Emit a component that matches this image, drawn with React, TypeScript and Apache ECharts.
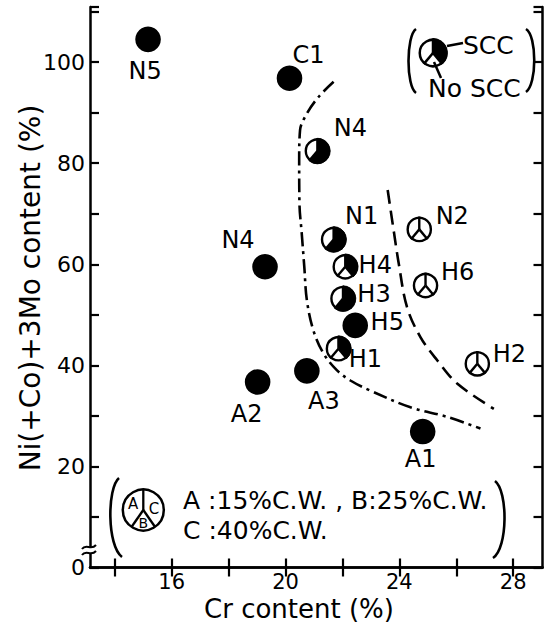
import React, { useEffect, useRef } from "react";
import * as echarts from "echarts";

// ---- data ----
const names = ["N5", "C1", "N4", "N4", "N1", "H4", "H3", "H5", "H1", "N2", "H6", "H2", "A2", "A3", "A1"];
const crContent = [15.17, 20.14, 21.12, 19.28, 21.69, 22.1, 22.02, 22.45, 21.86, 24.7, 24.92, 26.74, 19.02, 20.75, 24.82];
const niContent = [104.5, 96.8, 82.4, 59.5, 64.9, 59.5, 53.2, 47.9, 43.3, 66.9, 55.8, 40.3, 36.7, 38.9, 26.9];
// 1 = SCC (black sector), 0 = no SCC (white sector); A:15%, B:25%, C:40% C.W.
const sccA = [1, 1, 0, 1, 0, 0, 0, 1, 0, 0, 0, 0, 1, 1, 1];
const sccB = [1, 1, 1, 1, 1, 0, 1, 1, 0, 0, 0, 0, 1, 1, 1];
const sccC = [1, 1, 1, 1, 1, 1, 1, 1, 1, 0, 0, 0, 1, 1, 1];

const dashDotBoundary = [
  [21.69, 96.1], [21.16, 93.1], [20.75, 89.8], [20.51, 86.5], [20.48, 80.6], [20.49, 72.0],
  [20.57, 66.1], [20.66, 59.5], [20.75, 52.9], [20.98, 46.9], [21.34, 42.3], [21.81, 39.0],
  [22.28, 37.0], [22.98, 35.0], [24.39, 31.7], [25.68, 29.8], [26.85, 27.5],
];
const dashedBoundary = [
  [23.59, 74.7], [23.8, 66.7], [23.98, 60.1], [24.27, 51.5], [24.74, 45.6], [25.33, 41.0],
  [26.03, 36.4], [27.32, 31.4],
];

const xTicks = [14, 16, 18, 20, 22, 24, 26, 28];
const xTickLabels = [16, 20, 24, 28];
const yTickLabels = [0, 20, 40, 60, 80, 100];

// ---- label placement (style) ----
const labelOffsets = [
  [-3, 32], [19, -23], [33, -23], [-27, -27], [28, -23], [30, -2], [31, -5], [32, -3],
  [27, 10], [33, -13], [32, -13], [32, -10], [-11, 32], [17, 30], [-2, 27],
];

const FONT = "'DejaVu Sans', sans-serif";
const deg = Math.PI / 180;
const SECTORS = [
  { key: "A", start: 130, end: 270 },
  { key: "B", start: 50, end: 130 },
  { key: "C", start: -90, end: 50 },
];

function markChildren(cx: number, cy: number, r: number, flags: number[], lw: number) {
  const children: any[] = [];
  const allBlack = flags.every((f) => f);
  if (allBlack) {
    children.push({ type: "circle", shape: { cx, cy, r }, style: { fill: "#000" } });
    return children;
  }
  children.push({ type: "circle", shape: { cx, cy, r }, style: { fill: "#fff" } });
  SECTORS.forEach((s, k) => {
    if (flags[k]) {
      children.push({
        type: "sector",
        shape: { cx, cy, r0: 0, r, startAngle: s.start * deg, endAngle: s.end * deg, clockwise: true },
        style: { fill: "#000", stroke: "#000", lineWidth: 0.8 },
      });
    }
  });
  [-90, 50, 130].forEach((a) => {
    children.push({
      type: "line",
      shape: { x1: cx, y1: cy, x2: cx + r * Math.cos(a * deg), y2: cy + r * Math.sin(a * deg) },
      style: { stroke: "#000", lineWidth: lw },
    });
  });
  children.push({
    type: "circle",
    shape: { cx, cy, r: r - lw / 2 },
    style: { fill: "none", stroke: "#000", lineWidth: lw },
  });
  return children;
}

export default function App() {
  const ref = useRef<HTMLDivElement>(null);
  useEffect(() => {
    if (!ref.current) return;
    const chart = echarts.init(ref.current, null, { renderer: "svg" });
    const pointData = crContent.map((x, i) => [x, niContent[i], i]);

    const axisLine = { show: true, lineStyle: { color: "#000", width: 2.5 } };
    const axisTick = { show: true, inside: true, length: 9, lineStyle: { color: "#000", width: 2.2 } };

    const legendMark = markChildren(433, 53, 14.5, [0, 0, 1], 2.5);

    const option: any = {
      animation: false,
      backgroundColor: "#fff",
      grid: { left: 90, right: 9.5, top: 7, bottom: 62.5, show: false },
      xAxis: [
        {
          type: "value",
          min: 13.13,
          max: 29.03,
          position: "bottom",
          axisLine,
          axisTick: { ...axisTick, customValues: xTicks },
          axisLabel: {
            customValues: xTickLabels,
            color: "#000",
            fontSize: 21,
            lineHeight: 21,
            fontFamily: FONT,
            margin: 4,
          },
          splitLine: { show: false },
        },
        {
          type: "value",
          min: 13.13,
          max: 29.03,
          position: "top",
          axisLine,
          axisTick: { ...axisTick, customValues: xTicks },
          axisLabel: { show: false },
          splitLine: { show: false },
        },
      ],
      yAxis: [
        {
          type: "value",
          min: 0,
          max: 110.9,
          interval: 10,
          position: "left",
          axisLine,
          axisTick,
          axisLabel: {
            color: "#000",
            fontSize: 22,
            fontFamily: FONT,
            margin: 5,
            formatter: (v: number) => (yTickLabels.indexOf(v) >= 0 ? String(v) : ""),
          },
          splitLine: { show: false },
        },
        {
          type: "value",
          min: 0,
          max: 110.9,
          interval: 10,
          position: "right",
          axisLine,
          axisTick,
          axisLabel: { show: false },
          splitLine: { show: false },
        },
      ],
      series: [
        {
          type: "line",
          data: dashDotBoundary,
          smooth: 0.35,
          symbol: "none",
          lineStyle: { color: "#000", width: 2.6, type: [14, 5, 3, 5] },
          z: 2,
        },
        {
          type: "line",
          data: dashedBoundary,
          smooth: 0.35,
          symbol: "none",
          lineStyle: { color: "#000", width: 2.6, type: [14, 7] },
          z: 2,
        },
        {
          type: "custom",
          coordinateSystem: "cartesian2d",
          encode: { x: 0, y: 1 },
          data: pointData,
          z: 5,
          renderItem: (params: any, api: any) => {
            const i = params.dataIndex;
            const [cx, cy] = api.coord([api.value(0), api.value(1)]);
            const children = markChildren(cx, cy, 12.8, [sccA[i], sccB[i], sccC[i]], 2.4);
            const off = labelOffsets[i];
            children.push({
              type: "text",
              x: cx + off[0],
              y: cy + off[1],
              style: {
                text: names[i],
                fill: "#000",
                fontSize: 24,
                fontFamily: FONT,
                align: "center",
                verticalAlign: "middle",
              },
            });
            return { type: "group", children };
          },
        },
      ],
      graphic: [
        // axis titles
        {
          type: "text",
          x: 299,
          y: 609,
          style: { text: "Cr content (%)", fill: "#000", fontSize: 26, lineHeight: 26, fontFamily: FONT, align: "center", verticalAlign: "middle" },
        },
        {
          type: "text",
          x: 30,
          y: 288,
          rotation: Math.PI / 2,
          style: { text: "Ni(+Co)+3Mo content (%)", fill: "#000", fontSize: 28, fontFamily: FONT, align: "center", verticalAlign: "middle" },
        },
        // axis break
        { type: "rect", shape: { x: 86, y: 547, width: 8, height: 6 }, style: { fill: "#fff" }, z: 10 },
        {
          type: "bezierCurve",
          shape: { x1: 82, y1: 549, cpx1: 86, cpy1: 543, cpx2: 91, cpy2: 551, x2: 96, y2: 545 },
          style: { stroke: "#000", lineWidth: 2, fill: "none" },
          z: 11,
        },
        {
          type: "bezierCurve",
          shape: { x1: 82, y1: 555, cpx1: 86, cpy1: 549, cpx2: 91, cpy2: 557, x2: 96, y2: 551 },
          style: { stroke: "#000", lineWidth: 2, fill: "none" },
          z: 11,
        },
        // top-right legend
        {
          type: "bezierCurve",
          shape: { x1: 416, y1: 29, cpx1: 406, cpy1: 36, cpx2: 406, cpy2: 86, x2: 416, y2: 93 },
          style: { stroke: "#000", lineWidth: 2.6, fill: "none" },
        },
        {
          type: "bezierCurve",
          shape: { x1: 526, y1: 29, cpx1: 537, cpy1: 36, cpx2: 537, cpy2: 84, x2: 526, y2: 92 },
          style: { stroke: "#000", lineWidth: 2.6, fill: "none" },
        },
        { type: "group", children: legendMark, z: 5 },
        { type: "line", shape: { x1: 447, y1: 46, x2: 463, y2: 43 }, style: { stroke: "#000", lineWidth: 2.5 } },
        { type: "line", shape: { x1: 441, y1: 78, x2: 434, y2: 62 }, style: { stroke: "#000", lineWidth: 2.5 }, z: 6 },
        {
          type: "text",
          x: 463,
          y: 45,
          style: { text: "SCC", fill: "#000", fontSize: 25, fontFamily: FONT, align: "left", verticalAlign: "middle" },
        },
        {
          type: "text",
          x: 428,
          y: 88,
          style: { text: "No SCC", fill: "#000", fontSize: 25, fontFamily: FONT, align: "left", verticalAlign: "middle" },
        },
        // bottom-left legend
        {
          type: "bezierCurve",
          shape: { x1: 119, y1: 478, cpx1: 107, cpy1: 488, cpx2: 107, cpy2: 546, x2: 122, y2: 557 },
          style: { stroke: "#000", lineWidth: 2.6, fill: "none" },
        },
        {
          type: "bezierCurve",
          shape: { x1: 495, y1: 481, cpx1: 508, cpy1: 491, cpx2: 508, cpy2: 548, x2: 493, y2: 558 },
          style: { stroke: "#000", lineWidth: 2.6, fill: "none" },
        },
        { type: "circle", shape: { cx: 143.3, cy: 510, r: 20.5 }, style: { fill: "#fff", stroke: "#000", lineWidth: 2.5 } },
        { type: "line", shape: { x1: 143.3, y1: 489.5, x2: 143.3, y2: 510 }, style: { stroke: "#000", lineWidth: 2.3 } },
        { type: "line", shape: { x1: 143.3, y1: 510, x2: 131.5, y2: 527 }, style: { stroke: "#000", lineWidth: 2.3 } },
        { type: "line", shape: { x1: 143.3, y1: 510, x2: 155.1, y2: 527 }, style: { stroke: "#000", lineWidth: 2.3 } },
        { type: "text", x: 133, y: 504, style: { text: "A", fill: "#000", fontSize: 15, fontFamily: FONT, align: "center", verticalAlign: "middle" } },
        { type: "text", x: 154, y: 509, style: { text: "C", fill: "#000", fontSize: 15, fontFamily: FONT, align: "center", verticalAlign: "middle" } },
        { type: "text", x: 143.3, y: 523, style: { text: "B", fill: "#000", fontSize: 14, fontFamily: FONT, align: "center", verticalAlign: "middle" } },
        {
          type: "text",
          x: 183,
          y: 500,
          style: { text: "A :15%C.W. , B:25%C.W.", fill: "#000", fontSize: 25, fontFamily: FONT, align: "left", verticalAlign: "middle" },
        },
        {
          type: "text",
          x: 183,
          y: 530,
          style: { text: "C :40%C.W.", fill: "#000", fontSize: 25, fontFamily: FONT, align: "left", verticalAlign: "middle" },
        },
      ],
    };
    chart.setOption(option);
    return () => chart.dispose();
  }, []);
  return <div ref={ref} style={{ position: "absolute", left: 0, top: 0, width: 552, height: 630 }} />;
}
